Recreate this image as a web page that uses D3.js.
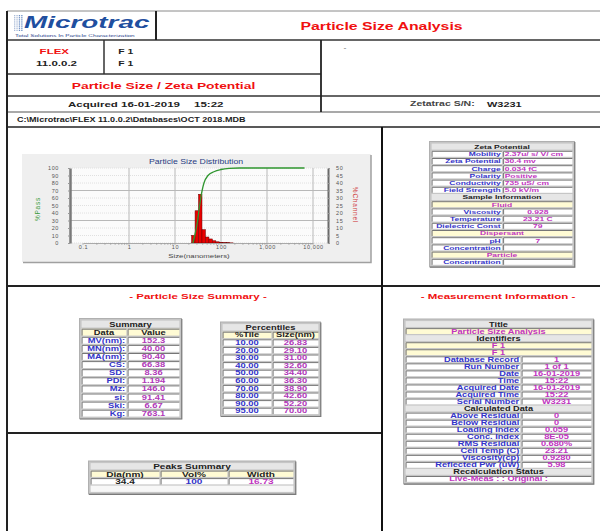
<!DOCTYPE html>
<html>
<head>
<meta charset="utf-8">
<script src="https://cdnjs.cloudflare.com/ajax/libs/d3/7.8.5/d3.min.js"></script>
<style>
body { margin: 0; background: #fff; }
svg { display: block; }
text { font-family: "Liberation Sans", Arial, sans-serif; font-weight: bold; }
</style>
</head>
<body>
<script>
// ---- chart data ----
var sizeEdges = [22.96, 27.30, 32.47, 38.61, 45.91, 54.60, 64.93, 77.21, 91.82, 109.2, 129.8, 154.4, 183.6];
var channelPct = [5.1, 21.5, 32.5, 8.9, 4.0, 2.7, 1.5, 0.8, 0.5, 0.3, 0.2, 0.1];
var passSizes = [24.5, 26.83, 29.10, 31.00, 32.60, 34.40, 36.30, 38.90, 42.60, 52.20, 70.00, 100, 150, 250, 6540];
var passPct = [0, 10, 20, 30, 40, 50, 60, 70, 80, 90, 95, 98, 99.5, 100, 100];
var sizeTicks = [0.1, 1, 10, 100, 1000, 10000];
var passTicks = [0, 10, 20, 30, 40, 50, 60, 70, 80, 90, 100];
var channelTicks = [0, 5, 10, 15, 20, 25, 30, 35, 40, 45, 50];

// ---- table data ----
var summaryLabels = ['MV(nm):', 'MN(nm):', 'MA(nm):', 'CS:', 'SD:', 'PDI:', 'Mz:', 'si:', 'Ski:', 'Kg:'];
var summaryValues = ['152.3', '40.00', '90.40', '66.38', '8.36', '1.194', '146.0', '91.41', '6.67', '763.1'];
var pctTiles = ['10.00', '20.00', '30.00', '40.00', '50.00', '60.00', '70.00', '80.00', '90.00', '95.00'];
var pctSizes = ['26.83', '29.10', '31.00', '32.60', '34.40', '36.30', '38.90', '42.60', '52.20', '70.00'];
var zetaLabels = ['Mobility', 'Zeta Potential', 'Charge', 'Polarity', 'Conductivity', 'Field Strength'];
var zetaValues = ['2.37u/ s/ V/ cm', '30.4 mv', '0.034 fC', 'Positive', '735 uS/ cm', '5.0 kV/m'];
var fluidLabels = ['Viscosity', 'Temperature', 'Dielectric Const'];
var fluidValues = ['0.928', '23.21 C', '79'];
var dispLabels = ['pH', 'Concentration'];
var dispValues = ['7', ''];
var particleLabels = ['Concentration'];
var particleValues = [''];
var idLabels = ['Database Record', 'Run Number', 'Date', 'Time', 'Acquired Date', 'Acquired Time', 'Serial Number'];
var idValues = ['1', '1 of 1', '16-01-2019', '15:22', '16-01-2019', '15:22', 'W3231'];
var calcLabels = ['Above Residual', 'Below Residual', 'Loading Index', 'Conc. Index', 'RMS Residual', 'Cell Temp (C)', 'Viscosity(cp)', 'Reflected Pwr (uW)'];
var calcValues = ['0', '0', '0.059', '8E-05', '0.680%', '23.21', '0.9280', '5.98'];
var peakHeads = ['Dia(nm)', 'Vol%', 'Width'];
var peakValues = ['34.4', '100', '16.73'];

var BLUE = '#3434c8', MAG = '#c034c0', DARK = '#222', RED = '#f01010';
var SX = 1.44;

var svg = d3.select('body').append('svg').attr('width', 600).attr('height', 531);

function txt(g, x, y, s, size, color, anchor, extra) {
    extra = extra || {};
    return g.append('text')
        .attr('transform', 'translate(' + x + ',' + y + ') scale(' + (extra.sx || SX) + ',1)')
        .attr('text-anchor', anchor || 'middle')
        .attr('dy', '0.35em')
        .style('font-size', size + 'px')
        .style('font-weight', extra.weight || 'bold')
        .style('font-style', extra.style || 'normal')
        .style('fill', color || '#000')
        .text(s);
}

// ---- page frame ----
var rules = [
    [7, 11, 600, 11, 1, '#8a8a8a'],
    [7, 40, 600, 40, 1.3, '#333'],
    [7, 74, 321, 74, 1.3, '#333'],
    [7, 96, 600, 96, 1.3, '#333'],
    [7, 112, 600, 112, 1.2, '#555'],
    [7, 127, 600, 127, 1.6, '#222'],
    [7, 286, 600, 286, 1.8, '#222'],
    [7, 433, 382, 433, 1.8, '#222'],
    [7, 11, 7, 531, 2, '#222'],
    [156, 11, 156, 40, 2, '#222'],
    [104, 40, 104, 74, 1.5, '#333'],
    [321, 40, 321, 112, 1.8, '#222'],
    [382, 127, 382, 531, 2, '#111']
];
svg.selectAll('line.rule').data(rules).enter().append('line')
    .attr('class', 'rule')
    .attr('x1', d => d[0]).attr('y1', d => d[1])
    .attr('x2', d => d[2]).attr('y2', d => d[3])
    .attr('stroke-width', d => d[4]).attr('stroke', d => d[5]);

// ---- header ----
var hg = svg.append('g');
// logo dots
d3.range(4).forEach(function(c) {
    d3.range(8).forEach(function(r) {
        hg.append('rect').attr('x', 14 + c * 2.4).attr('y', 15 + r * 2.1)
            .attr('width', 1.3).attr('height', 1.3)
            .attr('fill', c > 1 ? '#6d8fc4' : '#aabbd8');
    });
});
txt(hg, 24, 22.5, 'Microtrac', 17, '#1f4f9f', 'start', {sx: 1.64, style: 'italic'});
txt(hg, 15, 35.2, 'Total Solutions In Particle Characterization', 4.2, '#27408a', 'start', {weight: 'normal', sx: 1.52});
txt(hg, 381.5, 26, 'Particle Size Analysis', 11, RED, 'middle');
txt(hg, 54.3, 51, 'FLEX', 8, RED, 'middle');
txt(hg, 56.5, 63, '11.0.0.2', 8, DARK, 'middle');
txt(hg, 118.3, 51, 'F 1', 8, DARK, 'start', {sx: 1.3});
txt(hg, 118.3, 63, 'F 1', 8, DARK, 'start', {sx: 1.3});
txt(hg, 345, 48, '-', 6, '#333', 'middle', {weight: 'normal'});
txt(hg, 163.5, 86, 'Particle Size / Zeta Potential', 9.6, RED, 'middle');
txt(hg, 68, 104, 'Acquired 16-01-2019', 8, DARK, 'start');
txt(hg, 194, 104, '15:22', 8, DARK, 'start');
txt(hg, 410, 104, 'Zetatrac  S/N:', 7, '#444', 'start', {sx: 1.5});
txt(hg, 487, 104, 'W3231', 7.6, DARK, 'start');
txt(hg, 17, 119.5, 'C:\\Microtrac\\FLEX 11.0.0.2\\Databases\\OCT 2018.MDB', 6.3, DARK, 'start');

// ---- distribution chart ----
var cg = svg.append('g');
cg.append('rect').attr('x', 22).attr('y', 154).attr('width', 349).attr('height', 108).attr('fill', '#efefef');
cg.append('path').attr('d', 'M371,155V262.5H23').attr('fill', 'none').attr('stroke', '#a0a0a0').attr('stroke-width', 1.5);

var x = d3.scaleLog().domain([0.1, 10000]).range([83, 313]);
var yPass = d3.scaleLinear().domain([0, 100]).range([243, 168]);
var yChan = d3.scaleLinear().domain([0, 50]).range([243, 168]);

cg.append('rect').attr('x', 70).attr('y', 168).attr('width', 258).attr('height', 75).attr('fill', '#fbfbfb');

cg.selectAll('line.fgrid').data(passTicks).enter().append('line')
    .attr('x1', 70).attr('x2', 328)
    .attr('y1', d => yPass(d)).attr('y2', d => yPass(d))
    .attr('stroke', '#e0e0e0').attr('stroke-dasharray', '1,1');
cg.selectAll('line.hgrid').data([30, 70]).enter().append('line')
    .attr('x1', 70).attr('x2', 328)
    .attr('y1', d => yPass(d)).attr('y2', d => yPass(d))
    .attr('stroke', '#b8b8b8');
cg.selectAll('line.vgrid').data(sizeTicks.slice(1)).enter().append('line')
    .attr('x1', d => x(d)).attr('x2', d => x(d))
    .attr('y1', 168).attr('y2', 243)
    .attr('stroke', '#b8b8b8');

cg.selectAll('rect.bar').data(channelPct).enter().append('rect')
    .attr('x', (d, i) => x(sizeEdges[i]))
    .attr('width', (d, i) => x(sizeEdges[i + 1]) - x(sizeEdges[i]))
    .attr('y', d => yChan(d))
    .attr('height', d => 243 - yChan(d))
    .attr('fill', '#e80000').attr('stroke', '#6a0000').attr('stroke-width', 0.5);

var passLine = d3.line()
    .x(d => x(d[0]))
    .y(d => yPass(d[1]))
    .curve(d3.curveMonotoneX);
cg.append('path').datum(d3.zip(passSizes, passPct))
    .attr('d', passLine)
    .attr('fill', 'none').attr('stroke', '#2f962f').attr('stroke-width', 1.3);

function styleAxis(a, col, w) {
    a.select('.domain').attr('stroke', col).attr('stroke-width', w);
    a.selectAll('.tick line').attr('stroke', '#999');
    a.selectAll('.tick text')
        .style('font-size', '5.5px').style('font-weight', 'normal')
        .style('fill', '#555').style('letter-spacing', '0.6px');
}
var ax = cg.append('g').attr('transform', 'translate(0,243)')
    .call(d3.axisBottom(x).tickValues(sizeTicks).tickFormat(d3.format(',')).tickSize(0).tickPadding(2.5));
styleAxis(ax, '#aaa', 1);
cg.selectAll('line.minor').data(x.ticks()).enter().append('line')
    .attr('x1', d => x(d)).attr('x2', d => x(d))
    .attr('y1', 243).attr('y2', 245)
    .attr('stroke', '#999').attr('stroke-width', 0.6);

var ayl = cg.append('g').attr('transform', 'translate(70,0)')
    .call(d3.axisLeft(yPass).tickValues(passTicks).tickSizeInner(2).tickSizeOuter(0).tickPadding(9));
styleAxis(ayl, '#7a7a7a', 2.5);
var ayr = cg.append('g').attr('transform', 'translate(328,0)')
    .call(d3.axisRight(yChan).tickValues(channelTicks).tickSizeInner(2).tickSizeOuter(0).tickPadding(6));
styleAxis(ayr, '#6a6a6a', 2);

txt(cg, 196, 162, 'Particle Size Distribution', 6.5, '#283c82', 'middle', {weight: 'normal', sx: 1.34});
txt(cg, 199, 256, 'Size(nanometers)', 6, '#444', 'middle', {weight: 'normal', sx: 1.3});
cg.append('text').attr('transform', 'translate(38,209) rotate(-90)')
    .attr('text-anchor', 'middle').attr('dy', '0.35em')
    .style('font-size', '6.5px').style('font-weight', 'normal').style('fill', '#3a9a3a')
    .style('letter-spacing', '0.8px').text('%Pass');
cg.append('text').attr('transform', 'translate(355,205) rotate(90)')
    .attr('text-anchor', 'middle').attr('dy', '0.35em')
    .style('font-size', '6.5px').style('font-weight', 'normal').style('fill', '#d04040')
    .style('letter-spacing', '0.8px').text('%Channel');

// ---- tables ----
function table(cols, y0, rowH, rows, size) {
    var g = svg.append('g');
    var x0 = cols[0], x1 = cols[cols.length - 1], h = rowH * rows.length;
    g.append('rect').attr('x', x0 - 1.5).attr('y', y0 - 1.5)
        .attr('width', x1 - x0 + 3).attr('height', h + 3)
        .attr('fill', '#c6c6c6').attr('stroke', '#b0b0b0').attr('stroke-width', 1);
    g.append('path').attr('d', 'M' + (x1 + 1.8) + ',' + (y0 - 1) + 'V' + (y0 + h + 1.8) + 'H' + (x0 - 1))
        .attr('fill', 'none').attr('stroke', '#7a7a7a').attr('stroke-width', 1.2);
    rows.forEach(function(r, i) {
        var y = y0 + i * rowH;
        var spans = r.span ? [[x0, x1]] : d3.pairs(cols);
        spans.forEach(function(sp, j) {
            var fill = {head: '#e6e6e6', yellow: '#fffbd4', cell: '#ffffff', blank: '#f7f7f7'}[r.kind];
            g.append('rect').attr('x', sp[0] + 0.6).attr('y', y + 0.6)
                .attr('width', sp[1] - sp[0] - 1.2).attr('height', rowH - 1.2).attr('fill', fill);
            if (r.kind === 'cell' || r.kind === 'yellow') {
                g.append('path')
                    .attr('d', 'M' + (sp[0] + 1.1) + ',' + (y + rowH - 0.6) + 'V' + (y + 1.1) + 'H' + (sp[1] - 0.6))
                    .attr('fill', 'none').attr('stroke', '#767676').attr('stroke-width', 1);
            }
            var c = r.cells && r.cells[j];
            if (!c || !c.t) return;
            var a = c.a || 'middle';
            var tx = a === 'end' ? sp[1] - 1.8 : a === 'start' ? sp[0] + 2.2 : (sp[0] + sp[1]) / 2;
            txt(g, tx, y + rowH / 2 + 0.3, c.t, size, c.c || DARK, a);
        });
    });
}
function head(t, c) { return {kind: 'head', span: true, cells: [{t: t, c: c || DARK}]}; }
function band(t, c) { return {kind: 'yellow', span: true, cells: [{t: t, c: c || MAG}]}; }
function pairRows(labels, values, valAlign) {
    return labels.map(function(l, i) {
        return {kind: 'cell', cells: [{t: l, c: BLUE, a: 'end'}, {t: values[i], c: MAG, a: valAlign || 'middle'}]};
    });
}

// zeta potential / sample information
var zetaRows = [head('Zeta Potential')]
    .concat(pairRows(zetaLabels, zetaValues, 'start'))
    .concat([head('Sample Information'), band('Fluid')])
    .concat(pairRows(fluidLabels, fluidValues))
    .concat([band('Dispersant')])
    .concat(pairRows(dispLabels, dispValues))
    .concat([band('Particle')])
    .concat(pairRows(particleLabels, particleValues));
table([431, 502.5, 573], 143, 7.2, zetaRows, 5.9);

// section titles
txt(svg, 198, 296, '- Particle Size Summary -', 8, RED, 'middle');
txt(svg, 498, 296, '- Measurement Information -', 8, RED, 'middle');

// summary
var sumRows = [head('Summary'),
    {kind: 'yellow', cells: [{t: 'Data'}, {t: 'Value'}]}]
    .concat(summaryLabels.map(function(l, i) {
        return {kind: 'cell', cells: [{t: l, c: BLUE, a: 'end'}, {t: summaryValues[i], c: '#b038b8'}]};
    }));
table([81, 127, 180], 320, 8.1, sumRows, 6.5);

// percentiles
var pctRows = [head('Percentiles'),
    {kind: 'yellow', cells: [{t: '%Tile'}, {t: 'Size(nm)'}]}]
    .concat(pctTiles.map(function(t, i) {
        return {kind: 'cell', cells: [{t: t, c: BLUE}, {t: pctSizes[i], c: '#b038b8'}]};
    }));
table([222, 272, 319], 323.5, 7.6, pctRows, 6.5);

// measurement information
var mRows = [head('Title'), band('Particle Size Analysis'), head('Identifiers'), band('F 1'), band('F 1')]
    .concat(pairRows(idLabels, idValues))
    .concat([head('Calculated Data')])
    .concat(pairRows(calcLabels, calcValues))
    .concat([head('Recalculation Status'),
        {kind: 'cell', span: true, cells: [{t: 'Live-Meas : : Original :', c: MAG}]}]);
table([405, 521, 592], 320.5, 7.04, mRows, 6.4);

// peaks summary
var pkRows = [head('Peaks Summary'),
    {kind: 'yellow', cells: peakHeads.map(function(t) { return {t: t}; })},
    {kind: 'cell', cells: [{t: peakValues[0], c: DARK}, {t: peakValues[1], c: BLUE}, {t: peakValues[2], c: MAG}]},
    {kind: 'blank', span: true, cells: []}];
table([90, 160, 228, 294], 462.5, 7.5, pkRows, 7);
</script>
</body>
</html>
